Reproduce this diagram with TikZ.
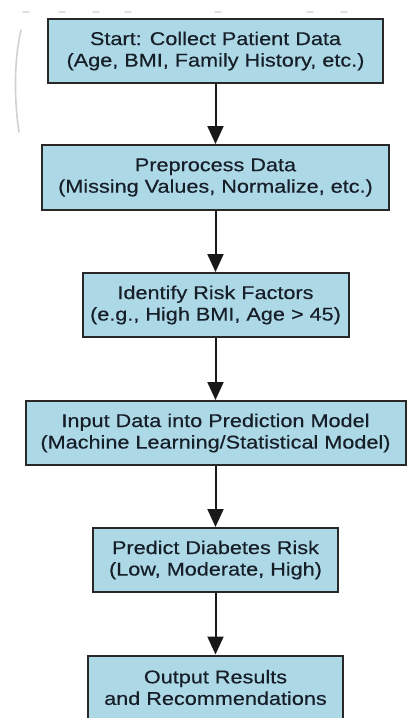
\documentclass[tikz,border=0pt]{standalone}
\usepackage{fontspec}
\setmainfont{Liberation Sans}[FakeStretch=1.17,FakeBold=0.35]
\usetikzlibrary{arrows.meta}
\definecolor{boxfill}{RGB}{173,216,230}
\definecolor{boxtext}{RGB}{22,30,40}
\definecolor{boxline}{RGB}{40,40,40}
\tikzset{
  flowbox/.style={draw=boxline, line width=2pt, fill=boxfill, text=boxtext,
    align=center, inner sep=0pt, minimum height=64pt,
    font=\fontsize{18.5}{21.5}\selectfont},
  flowarrow/.style={draw=black!90, line width=2pt,
    -{Triangle[length=18pt,width=16pt]}},
  artifact/.style={draw=black!18, line width=1.6pt, line cap=round}
}
\begin{document}
\begin{tikzpicture}[x=1pt,y=-1pt]
\useasboundingbox (0,0) rectangle (411,718);
\fill[white] (0,0) rectangle (411,718);
% faint scan artifacts
\draw[artifact] (21,30) .. controls (14,60) and (14,100) .. (19,132);
\foreach \xx in {26,62,96,128,218,310,344}{
  \draw[artifact, black!12] (\xx-3,12) -- (\xx+3,12);
}
\node[flowbox, minimum width=335pt] (b1) at (215.5,51)
  {Start: Collect Patient Data\\(Age, BMI, Family History, etc.)};
\node[flowbox, minimum width=347pt, minimum height=65pt] (b2) at (215.5,177.5)
  {Preprocess Data\\(Missing Values, Normalize, etc.)};
\node[flowbox, minimum width=266pt] (b3) at (215.5,305)
  {Identify Risk Factors\\(e.g., High BMI, Age > 45)};
\node[flowbox, minimum width=380pt] (b4) at (215.5,433)
  {Input Data into Prediction Model\\(Machine Learning/Statistical Model)};
\node[flowbox, minimum width=245pt] (b5) at (215.5,560)
  {Predict Diabetes Risk\\(Low, Moderate, High)};
\node[flowbox, minimum width=255pt] (b6) at (215.5,687.5)
  {Output Results\\and Recommendations};
\draw[flowarrow] (b1.south) -- (b2.north);
\draw[flowarrow] (b2.south) -- (b3.north);
\draw[flowarrow] (b3.south) -- (b4.north);
\draw[flowarrow] (b4.south) -- (b5.north);
\draw[flowarrow] (b5.south) -- (b6.north);
\end{tikzpicture}
\end{document}
